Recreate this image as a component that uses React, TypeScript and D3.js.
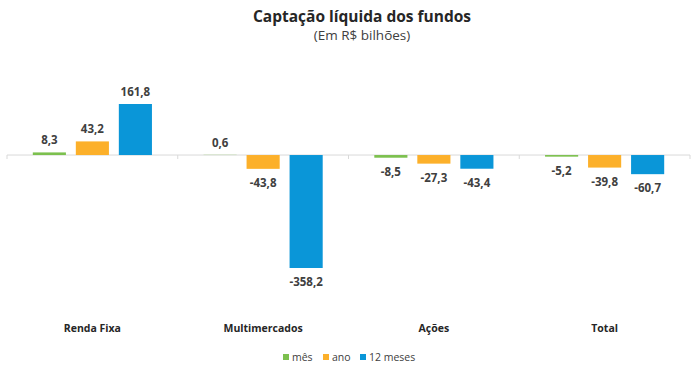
import React from "react";
import * as d3 from "d3";

const categories = ["Renda Fixa", "Multimercados", "Ações", "Total"];
const seriesNames = ["mês", "ano", "12 meses"];
const mes = [8.3, 0.6, -8.5, -5.2];
const ano = [43.2, -43.8, -27.3, -39.8];
const doze = [161.8, -358.2, -43.4, -60.7];
const colors = ["#7cc04e", "#fcb02a", "#0a96d8"];

const W = 700;
const H = 378;
const font = "'Open Sans', 'Noto Sans', sans-serif";

export default function App() {
  const series = [mes, ano, doze];
  const x0 = d3.scaleBand<string>().domain(categories).range([7, 690]).paddingInner(0).paddingOuter(0);
  const x1 = d3.scaleBand<string>().domain(seriesNames).range([0, x0.bandwidth()]).paddingInner(0.23).paddingOuter(0.6);
  const y = d3.scaleLinear().domain([-358.2, 161.8]).range([268, 104]);
  const fmt = (v: number) => v.toFixed(1).replace(".", ",");
  const y0 = y(0);

  return (
    <svg width={W} height={H} style={{ display: "block", position: "absolute", left: 0, top: 0 }}>
      <text x={362} y={22} textAnchor="middle" fontFamily={font} fontWeight="bold" fontSize={15.5} fill="#262626">
        Captação líquida dos fundos
      </text>
      <text x={362} y={40} textAnchor="middle" fontFamily={font} fontSize={13.5} fill="#404040">
        (Em R$ bilhões)
      </text>
      <line x1={x0.range()[0]} x2={x0.range()[1]} y1={y0} y2={y0} stroke="#d9d9d9" strokeWidth={1} />
      {[...categories.map((c) => x0(c)!), x0.range()[1]].map((tx, i) => (
        <line key={i} x1={tx} x2={tx} y1={y0} y2={y0 + 4} stroke="#d9d9d9" strokeWidth={1} />
      ))}
      {categories.map((c, ci) =>
        series.map((s, si) => {
          const v = s[ci];
          const bx = x0(c)! + x1(seriesNames[si])!;
          const top = Math.min(y(v), y0);
          const h = Math.abs(y(v) - y0);
          const ly = v >= 0 ? y(v) - 8 : y(v) + 18;
          return (
            <g key={c + si}>
              <rect x={bx} y={top} width={x1.bandwidth()} height={h} fill={colors[si]} />
              <text x={bx + x1.bandwidth() / 2} y={ly} textAnchor="middle" fontFamily={font} fontWeight="bold" fontSize={11.5} fill="#404040">
                {fmt(v)}
              </text>
            </g>
          );
        })
      )}
      {categories.map((c) => (
        <text key={c} x={x0(c)! + x0.bandwidth() / 2} y={332} textAnchor="middle" fontFamily={font} fontWeight="bold" fontSize={10.5} fill="#262626">
          {c}
        </text>
      ))}
      {(() => {
        const items = [
          { x: 283, name: seriesNames[0] },
          { x: 323, name: seriesNames[1] },
          { x: 360, name: seriesNames[2] },
        ];
        return items.map((it, i) => (
          <g key={i}>
            <rect x={it.x} y={354} width={6} height={6} fill={colors[i]} />
            <text x={it.x + 9} y={361} fontFamily={font} fontSize={10.5} fill="#404040">
              {it.name}
            </text>
          </g>
        ));
      })()}
    </svg>
  );
}
